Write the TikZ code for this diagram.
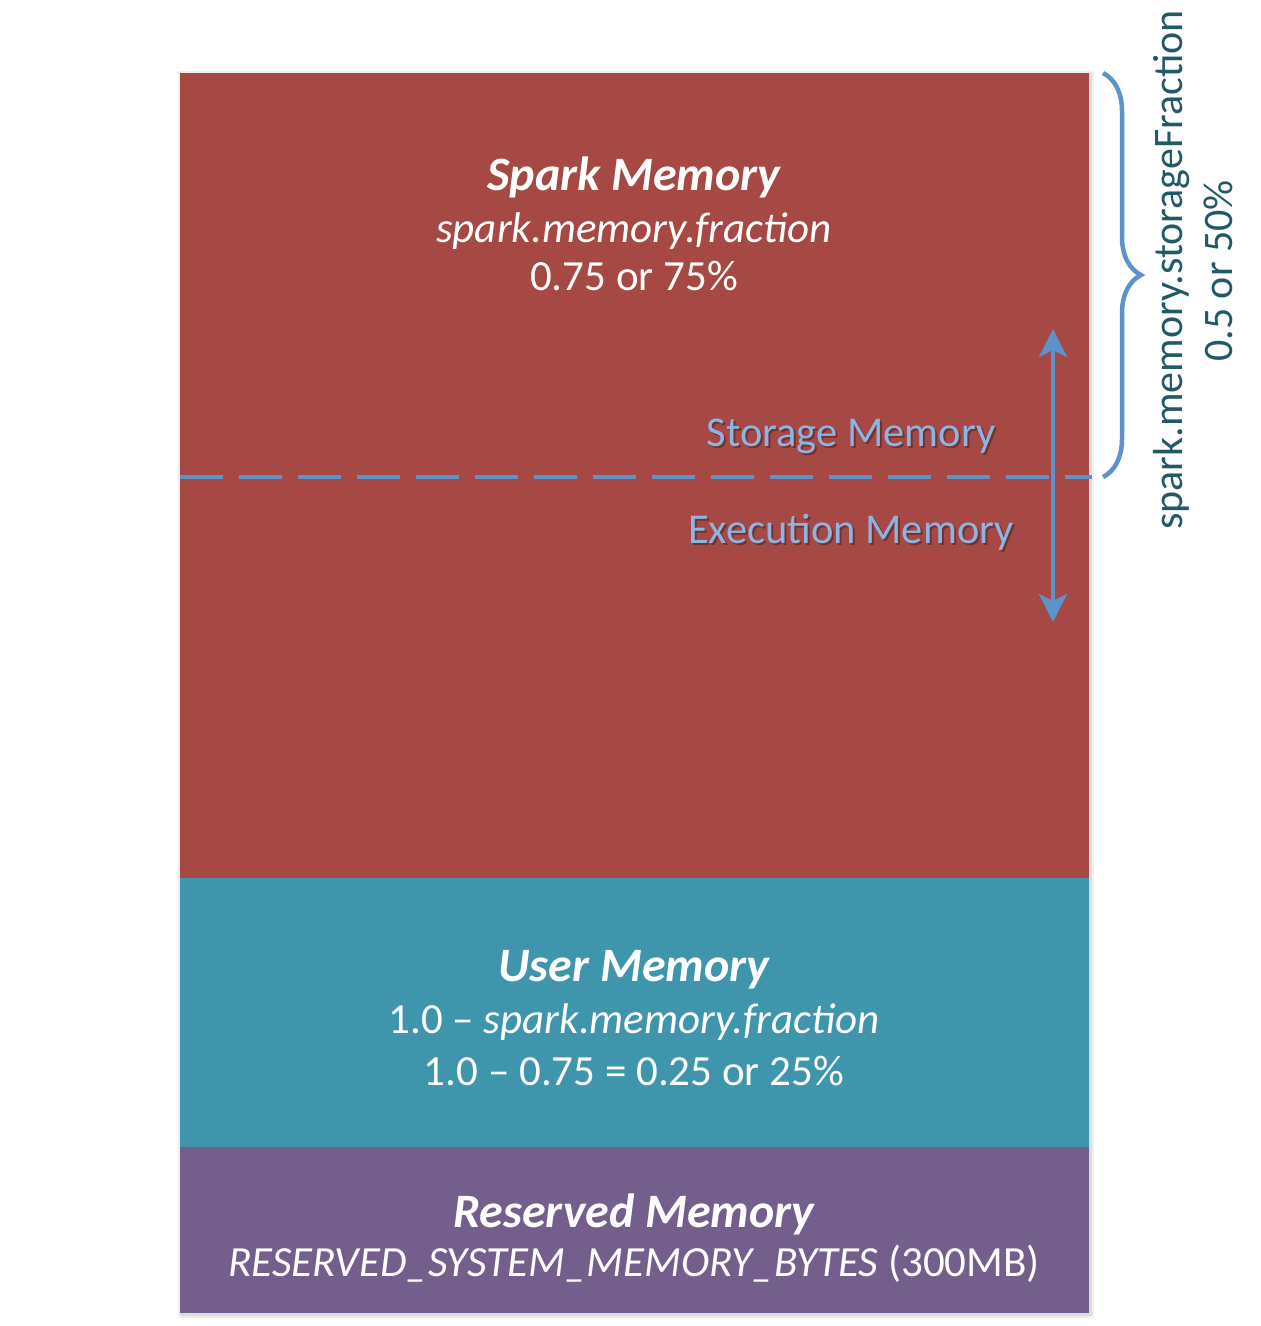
\documentclass[tikz,border=0pt]{standalone}
\usepackage{fontspec}
\setmainfont{Carlito}
\usetikzlibrary{decorations.pathreplacing,arrows.meta}
\definecolor{sparkred}{RGB}{166,72,67}
\definecolor{userteal}{RGB}{63,149,171}
\definecolor{respurple}{RGB}{116,94,139}
\definecolor{lineblue}{RGB}{93,146,202}
\definecolor{labelblue}{RGB}{142,180,227}
\definecolor{darkteal}{RGB}{34,89,102}
\tikzset{
  block/.style={draw=none, anchor=north west, inner sep=0pt, minimum width=909pt},
  titletext/.style={anchor=base, text=white, inner sep=0pt, font=\fontsize{48}{56}\selectfont\bfseries\itshape},
  bodytext/.style={anchor=base, text=white, inner sep=0pt, font=\fontsize{43}{50}\selectfont},
  bluelabel/.style={anchor=base, text=labelblue, inner sep=0pt, font=\fontsize{42.5}{50}\selectfont},
  bluelabelshadow/.style={anchor=base, text=black, text opacity=0.3, inner sep=0pt, font=\fontsize{42.5}{50}\selectfont},
  sidetext/.style={anchor=base, rotate=90, text=darkteal, inner sep=0pt, font=\fontsize{42}{50}\selectfont},
  blueline/.style={draw=lineblue, line width=4.8pt},
}
\begin{document}
\begin{tikzpicture}[x=1pt,y=-1pt]
\useasboundingbox (0,0) rectangle (1261,1326);
% soft shadow behind the stack
\fill[black, opacity=0.06] (178,71) rectangle (1094,1318);
\fill[black, opacity=0.08] (180,73) rectangle (1092,1316);
% blocks
\node[block, fill=sparkred, minimum height=805pt] (spark) at (180,73) {};
\node[block, fill=userteal, minimum height=269pt] (user) at (180,878) {};
\node[block, fill=respurple, minimum height=166pt] (res) at (180,1147) {};
% spark memory texts
\node[titletext] (t1) at (634,190) {Spark Memory};
\node[bodytext] (t2) at (634,242) {\itshape spark.memory.fraction};
\node[bodytext] (t3) at (634,290) {0.75 or 75\%};
% user memory texts
\node[titletext] (u1) at (634,981) {User Memory};
\node[bodytext] (u2) at (634,1033) {1.0 -- \textit{spark.memory.fraction}};
\node[bodytext] (u3) at (634,1085) {1.0 -- 0.75 = 0.25 or 25\%};
% reserved memory texts
\node[titletext] (r1) at (634,1227) {Reserved Memory};
\node[bodytext] (r2) at (634,1276) {\textit{RESERVED\_SYSTEM\_MEMORY\_BYTES} (300MB)};
% dashed boundary
\coordinate (dl) at (180,477);
\coordinate (dr) at (1092,477);
\draw[blueline, dash pattern=on 43pt off 16pt] (dl) -- (dr);
% labels with shadow
\node[bluelabelshadow] (ssh) at (853,448.5) {Storage Memory};
\node[bluelabel] (st) at (851,446) {Storage Memory};
\node[bluelabelshadow] (esh) at (853,545.5) {Execution Memory};
\node[bluelabel] (ex) at (851,543) {Execution Memory};
% double arrow
\coordinate (atop) at (1053,329);
\coordinate (abot) at (1053,622);
\draw[blueline, {Stealth[length=28pt,width=28pt,inset=7pt]}-{Stealth[length=28pt,width=28pt,inset=7pt]}] (atop) -- (abot);
% brace
\coordinate (btop) at (1103,73);
\coordinate (bbot) at (1103,477);
\draw[blueline, line width=4.5pt, decorate, decoration={brace, amplitude=38pt}] (btop) -- (bbot);
% side labels
\node[sidetext] (s1) at (1182,270) {spark.memory.storageFraction};
\node[sidetext] (s2) at (1232,271) {0.5 or 50\%};
\end{tikzpicture}
\end{document}
